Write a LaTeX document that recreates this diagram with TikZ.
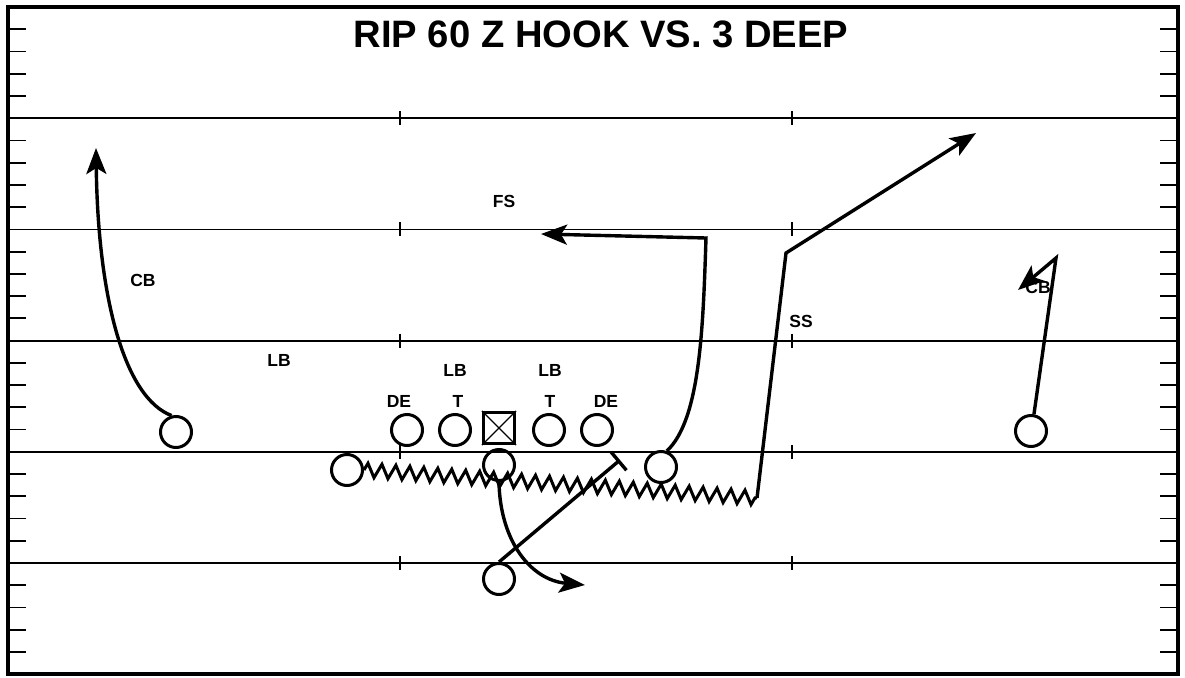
\documentclass[tikz,border=0pt]{standalone}
\usepackage{fontspec}
\setmainfont{Liberation Sans}
\usetikzlibrary{arrows.meta,decorations.pathmorphing}
\begin{document}
\begin{tikzpicture}[x=1pt,y=-1pt,
  player/.style={circle,draw,line width=3pt,minimum size=31pt,inner sep=0pt},
  ctrbox/.style={rectangle,draw,line width=3.2pt,minimum size=31pt,inner sep=0pt},
  lbl/.style={font=\fontsize{17.5}{17.5}\selectfont\bfseries,inner sep=0pt},
  route/.style={line width=3.4pt,line join=miter},
  arr/.style={-{Stealth[length=26pt,width=20pt,inset=6pt]}},
  yard/.style={line width=1.8pt},
  sidetick/.style={line width=1.8pt}]
\useasboundingbox (0,0) rectangle (1185,677);
\fill[white] (0,0) rectangle (1185,677);
% yard lines with hash marks
\foreach \i in {1,...,5}{
  \draw[yard] (8,{7+111.2*\i}) -- (1178,{7+111.2*\i});
  \foreach \hx in {400,792}{
    \draw[yard] (\hx,{7+111.2*\i-7}) -- (\hx,{7+111.2*\i+7});
  }
}
% side ticks
\foreach \i in {0,...,5}{
  \foreach \k in {1,...,4}{
    \draw[sidetick] (8,{7+111.2*\i+22.24*\k}) -- (26,{7+111.2*\i+22.24*\k});
    \draw[sidetick] (1160,{7+111.2*\i+22.24*\k}) -- (1178,{7+111.2*\i+22.24*\k});
  }
}
% title
\node[font=\fontsize{38.2}{38.2}\selectfont\bfseries,anchor=base,inner sep=0pt] (title) at (601,48) {RIP 60 Z HOOK VS. 3 DEEP};
% defensive labels
\node[lbl] (cbl) at (143,280) {CB};
\node[lbl] (lbo) at (279,360) {LB};
\node[lbl] (del) at (399,401) {DE};
\node[lbl] (tl) at (458,401) {T};
\node[lbl] (lbl1) at (455,370) {LB};
\node[lbl] (lbr) at (550,370) {LB};
\node[lbl] (tr) at (550,401) {T};
\node[lbl] (der) at (606,401) {DE};
\node[lbl] (fs) at (504,201) {FS};
\node[lbl] (ss) at (801,321) {SS};
\node[lbl] (cbr) at (1038,287) {CB};
% offensive players
\node[player] (lwr) at (176,432) {};
\node[player] (lde) at (407,430) {};
\node[player] (lt) at (455,430) {};
\node[ctrbox] (ctr) at (499,428) {};
\draw[line width=1.3pt] (ctr.north west) -- (ctr.south east) (ctr.north east) -- (ctr.south west);
\node[player] (rt) at (549,430) {};
\node[player] (rde) at (597,430) {};
\node[player] (slot) at (347,470) {};
\node[player] (qb) at (499,465) {};
\node[player] (te) at (661,467) {};
\node[player] (rb) at (499,579) {};
\node[player] (rwr) at (1031,431) {};
% free route ends
\coordinate (lwrtip) at (96,148);
\coordinate (fscorner) at (706,238);
\coordinate (fstip) at (541,234);
\coordinate (zend) at (757,498);
\coordinate (zbreak) at (786,253);
\coordinate (ztip) at (976,133);
\coordinate (qbtip) at (585,585);
\coordinate (blk) at (620,460);
\coordinate (rwrtop) at (1056,258);
\coordinate (rwrtip) at (1018,290);
% routes
\draw[route,arr] (lwr.105) .. controls (125,398) and (98,300) .. (lwrtip);
\draw[route,arr] (te.70) .. controls (700,420) and (703,330) .. (fscorner) -- (fstip);
\draw[line width=3pt,line join=miter,decorate,decoration={zigzag,segment length=14pt,amplitude=7pt}] (slot.east) -- (zend);
\draw[route,arr] (zend) -- (zbreak) -- (ztip);
\draw[route,arr] (qb.south) .. controls (500,540) and (530,580) .. (qbtip);
\draw[route,-{Bar[width=24pt]}] (rb.north) -- (blk);
\draw[route,arr] (rwr.80) -- (rwrtop) -- (rwrtip);
% border
\draw[line width=3.5pt] (8,7) rectangle (1178,674);
\end{tikzpicture}
\end{document}
